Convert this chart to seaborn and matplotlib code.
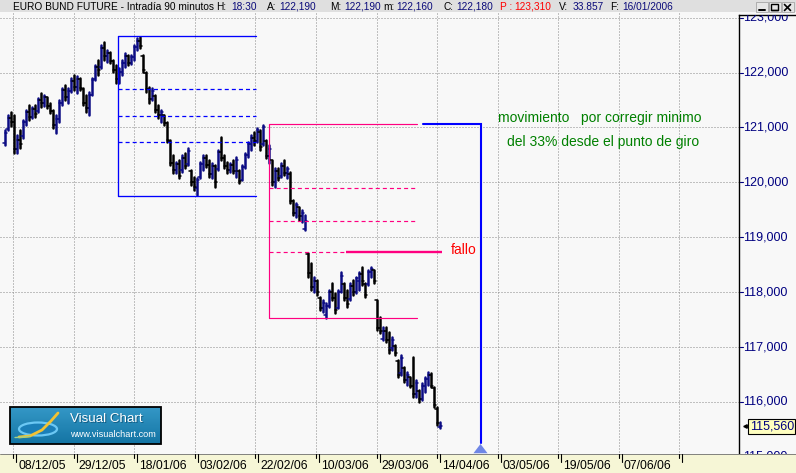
import numpy as np
import pandas as pd
import matplotlib
matplotlib.use("Agg")
import matplotlib.pyplot as plt
from matplotlib.patches import Rectangle, Polygon, Ellipse
import seaborn as sns

# ---------------------------------------------------------------------------
# Euro Bund future, 90-minute bars (compressed), Dec 2005 - Apr 2006
# ---------------------------------------------------------------------------
bar_open = [
    120.72, 120.97, 121.18, 121.10, 120.60, 120.78, 120.85, 121.10, 121.28, 121.20,
    121.33, 121.30, 121.50, 121.45, 121.55, 121.40, 121.30, 121.05, 121.15, 121.45,
    121.68, 121.55, 121.66, 121.85, 121.74, 121.88, 121.70, 121.45, 121.35, 121.60,
    121.88, 122.10, 122.10, 122.45, 122.30, 122.36, 122.22, 122.05, 121.88, 122.02,
    122.18, 122.30, 122.18, 122.28, 122.46, 122.58, 122.30, 122.00, 121.70, 121.52,
    121.58, 121.32, 121.22, 121.22, 121.08, 120.76, 120.36, 120.22, 120.33, 120.22,
    120.45, 120.33, 120.20, 120.00, 119.90, 120.10, 120.33, 120.45, 120.32, 120.15,
    120.30, 120.25, 120.55, 120.45, 120.30, 120.22, 120.32, 120.20, 120.20, 120.05,
    120.28, 120.50, 120.70, 120.80, 120.75, 120.92, 120.70, 120.75, 120.48, 120.40,
    120.00, 120.20, 120.12, 120.30, 120.18, 120.15, 119.66, 119.45, 119.55, 119.38,
    119.16, 118.70, 118.35, 118.10, 118.20, 117.90, 117.72, 117.58, 117.75, 118.00,
    117.90, 117.72, 118.00, 118.15, 117.90, 117.88, 118.12, 118.00, 118.20, 118.33,
    118.15, 118.15, 118.36, 118.40, 117.85, 117.35, 117.15, 117.30, 117.12, 116.98,
    117.02, 116.75, 116.52, 116.62, 116.40, 116.45, 116.30, 116.15, 116.20, 116.05,
    116.30, 116.42, 116.50, 116.25, 115.88, 115.55,
]
bar_high = [
    120.95, 121.23, 121.28, 121.23, 120.86, 120.95, 121.14, 121.32, 121.41, 121.37,
    121.41, 121.54, 121.63, 121.59, 121.56, 121.45, 121.32, 121.23, 121.50, 121.72,
    121.77, 121.72, 121.90, 121.96, 121.94, 121.90, 121.72, 121.59, 121.65, 121.90,
    122.14, 122.23, 122.50, 122.56, 122.41, 122.38, 122.23, 122.14, 122.08, 122.23,
    122.36, 122.32, 122.32, 122.50, 122.63, 122.65, 122.32, 122.01, 121.74, 121.72,
    121.59, 121.41, 121.32, 121.23, 121.10, 120.77, 120.50, 120.37, 120.41, 120.50,
    120.54, 120.63, 120.23, 120.10, 120.08, 120.37, 120.50, 120.50, 120.41, 120.35,
    120.32, 120.59, 120.83, 120.50, 120.37, 120.35, 120.41, 120.46, 120.23, 120.32,
    120.54, 120.74, 120.86, 120.92, 120.99, 120.95, 121.05, 120.77, 120.68, 120.41,
    120.26, 120.26, 120.35, 120.41, 120.28, 120.19, 119.68, 119.63, 119.55, 119.50,
    119.41, 118.71, 118.53, 118.28, 118.22, 117.91, 117.86, 117.80, 118.04, 118.17,
    117.99, 118.04, 118.37, 118.17, 118.04, 118.17, 118.22, 118.28, 118.37, 118.46,
    118.17, 118.40, 118.46, 118.40, 117.86, 117.55, 117.37, 117.37, 117.28, 117.18,
    117.04, 116.77, 116.86, 116.64, 116.55, 116.46, 116.82, 116.40, 116.22, 116.35,
    116.46, 116.55, 116.53, 116.27, 115.90, 115.64,
]
bar_low = [
    120.68, 120.95, 121.03, 120.54, 120.54, 120.63, 120.81, 121.05, 121.14, 121.17,
    121.19, 121.28, 121.37, 121.39, 121.36, 121.26, 120.99, 120.90, 121.10, 121.41,
    121.50, 121.45, 121.65, 121.68, 121.63, 121.68, 121.41, 121.28, 121.23, 121.59,
    121.87, 121.96, 122.08, 122.23, 122.19, 122.18, 122.01, 121.81, 121.81, 121.96,
    122.10, 122.14, 122.16, 122.23, 122.41, 122.45, 122.01, 121.65, 121.45, 121.50,
    121.28, 121.17, 121.10, 121.05, 120.74, 120.32, 120.17, 120.17, 120.08, 120.19,
    120.26, 120.32, 119.95, 119.86, 119.77, 120.08, 120.23, 120.28, 120.10, 120.08,
    119.92, 120.23, 120.41, 120.26, 120.17, 120.19, 120.17, 120.10, 119.99, 120.04,
    120.26, 120.46, 120.59, 120.68, 120.74, 120.59, 120.68, 120.44, 120.35, 119.95,
    119.92, 120.04, 120.10, 120.13, 120.08, 119.63, 119.41, 119.37, 119.32, 119.28,
    119.13, 118.28, 118.04, 118.00, 117.95, 117.68, 117.64, 117.53, 117.73, 117.86,
    117.62, 117.71, 118.00, 117.86, 117.73, 117.86, 117.95, 117.99, 118.04, 118.13,
    117.91, 118.13, 118.28, 118.17, 117.31, 117.26, 117.13, 117.09, 116.89, 116.95,
    116.86, 116.46, 116.49, 116.36, 116.31, 116.27, 116.09, 116.09, 116.00, 116.04,
    116.18, 116.31, 116.27, 115.90, 115.58, 115.53,
]
bar_close = [
    120.90, 121.18, 121.10, 120.60, 120.78, 120.70, 121.10, 121.28, 121.20, 121.33,
    121.25, 121.50, 121.45, 121.55, 121.40, 121.30, 121.05, 121.15, 121.45, 121.68,
    121.55, 121.66, 121.85, 121.74, 121.88, 121.72, 121.45, 121.35, 121.60, 121.86,
    122.10, 122.05, 122.45, 122.30, 122.36, 122.22, 122.05, 121.88, 122.02, 122.18,
    122.30, 122.18, 122.28, 122.46, 122.58, 122.48, 122.05, 121.70, 121.52, 121.66,
    121.32, 121.22, 121.28, 121.08, 120.78, 120.36, 120.22, 120.33, 120.12, 120.45,
    120.30, 120.58, 120.00, 119.92, 120.04, 120.33, 120.45, 120.32, 120.15, 120.30,
    120.00, 120.55, 120.45, 120.30, 120.22, 120.32, 120.20, 120.40, 120.03, 120.28,
    120.50, 120.70, 120.80, 120.75, 120.95, 120.65, 121.00, 120.48, 120.60, 120.00,
    120.20, 120.08, 120.30, 120.18, 120.25, 119.66, 119.45, 119.58, 119.38, 119.45,
    119.30, 118.35, 118.10, 118.20, 118.00, 117.72, 117.80, 117.75, 118.00, 117.90,
    117.68, 118.00, 118.30, 117.90, 117.78, 118.12, 118.00, 118.25, 118.33, 118.20,
    117.95, 118.36, 118.42, 118.20, 117.35, 117.30, 117.30, 117.12, 116.95, 117.12,
    116.90, 116.50, 116.80, 116.40, 116.50, 116.30, 116.15, 116.35, 116.05, 116.30,
    116.42, 116.50, 116.30, 115.95, 115.62, 115.56,
]

price_grid = [115, 116, 117, 118, 119, 120, 121, 122, 123]
date_labels = ["08/12/05", "29/12/05", "18/01/06", "03/02/06", "22/02/06", "10/03/06",
               "29/03/06", "14/04/06", "03/05/06", "19/05/06", "07/06/06", ""]

# retracement boxes drawn from two swings (top, bottom, 33/50/66 levels)
swing1_top, swing1_bottom = 122.67, 119.75
swing1_levels = [121.70, 121.21, 120.74]
swing2_top, swing2_bottom = 121.06, 117.53
swing2_levels = [119.89, 119.30, 118.73]
target_arrow_end = 115.25

header_title = "EURO BUND FUTURE - Intradía 90 minutos"
header_fields = [("H:", "18:30"), ("A:", "122,190"), ("M:", "122,190"),
                 ("m:", "122,160"), ("C:", "122,180"), ("P :", "123,310"),
                 ("V:", "33.857"), ("F:", "16/01/2006")]

# ---------------------------------------------------------------------------
sns.set_theme(style="white")
plt.rcParams["font.family"] = ["Liberation Sans", "DejaVu Sans"]
plt.rcParams["lines.scale_dashes"] = False

W, H = 796, 473
fig = plt.figure(figsize=(W / 100, H / 100), dpi=100)
fig.patch.set_facecolor("#f8f8f8")

PLOT_TOP, PLOT_BOTTOM, PLOT_RIGHT = 12, 455, 739
PX0, PX_STEP = 5.0, 3.0          # pixel of first bar, pixels per bar


def idx_of(px):
    return (px - PX0) / PX_STEP


def fmt_price(v):
    return f"{v:.3f}".replace(".", ",")


PRICE_TOP, PRICE_BOTTOM = 123.104, 115.034

ax = fig.add_axes([0, 1 - PLOT_BOTTOM / H, PLOT_RIGHT / W, (PLOT_BOTTOM - PLOT_TOP) / H])
ax.set_facecolor("#f8f8f8")
xmin, xmax = idx_of(0), idx_of(PLOT_RIGHT)

# dotted grid
dot = (0, (0.72, 1.44))
ax.hlines(price_grid, xmin, xmax, colors="#8a8a8a", linestyles=[dot], lw=0.72, zorder=1)
grid_px = [13.3 + 60.545 * k for k in range(len(date_labels))]
ax.vlines([idx_of(g) for g in grid_px], PRICE_BOTTOM, PRICE_TOP, colors="#8a8a8a",
          linestyles=[dot], lw=0.72, zorder=1)

# OHLC bars
n = len(bar_close)
idx = np.arange(n)
o = np.array(bar_open)
c = np.array(bar_close)
direction = np.where(c >= o, "up", "down")
palette = {"up": "#0c0c84", "down": "#000000"}

hl = pd.DataFrame({
    "x": np.repeat(idx, 2).astype(float),
    "price": np.column_stack([bar_low, bar_high]).ravel(),
    "bar": np.repeat(idx, 2),
    "dir": np.repeat(direction, 2),
})
half = 0.55
oc = pd.DataFrame({
    "x": np.concatenate([np.column_stack([idx - half, idx]).ravel(),
                         np.column_stack([idx, idx + half]).ravel()]),
    "price": np.concatenate([np.repeat(o, 2), np.repeat(c, 2)]),
    "bar": np.concatenate([np.repeat(idx, 2), np.repeat(idx + n, 2)]),
    "dir": np.concatenate([np.repeat(direction, 2)] * 2),
})
sns.lineplot(data=hl, x="x", y="price", hue="dir", units="bar", estimator=None,
             sort=False, palette=palette, lw=1.8, legend=False, ax=ax, zorder=3)
sns.lineplot(data=oc, x="x", y="price", hue="dir", units="bar", estimator=None,
             sort=False, palette=palette, lw=1.1, legend=False, ax=ax, zorder=3)

# first swing box (blue)
blue, pink = "#0000ff", "#ff0080"
dash = (0, (2.9, 2.2))
b0, b1 = idx_of(118.3), idx_of(256)
ax.plot([b1, b0, b0, b1], [swing1_top, swing1_top, swing1_bottom, swing1_bottom],
        color=blue, lw=0.95, zorder=4)
ax.hlines(swing1_levels, b0, b1, colors=blue, linestyles=[dash], lw=0.9, zorder=4)

# second swing box (pink)
p0, p1 = idx_of(269.3), idx_of(417.3)
ax.plot([p1, p0, p0, p1], [swing2_top, swing2_top, swing2_bottom, swing2_bottom],
        color=pink, lw=0.85, zorder=4)
ax.hlines(swing2_levels[:2], p0, p1, colors=pink, linestyles=[dash], lw=0.85, zorder=4)
f0, f1 = idx_of(346), idx_of(441.7)
ax.hlines(swing2_levels[2], p0, f0, colors=pink, linestyles=[dash], lw=0.85, zorder=4)
ax.hlines(swing2_levels[2], f0, f1, colors=pink, lw=1.7, zorder=4)
ax.text(idx_of(450.5), swing2_levels[2] + 0.04, "fallo", color="#ff0000", fontsize=10,
        va="center", ha="left", zorder=5)

# projection arrow
a_x = idx_of(480.5)
ax.plot([idx_of(423.3), a_x, a_x], [swing2_top, swing2_top, target_arrow_end],
        color=blue, lw=1.5, zorder=4, solid_joinstyle="miter")
ax.add_patch(Polygon([(a_x - 2.35, 115.066), (a_x + 2.35, 115.066), (a_x, 115.235)],
                     closed=True, facecolor="#6f86e6", edgecolor="none", zorder=5))

ax.text(idx_of(498.3), 121.17, "movimiento   por corregir minimo", color="#008000",
        fontsize=10, va="center", ha="left", zorder=5)
ax.text(idx_of(506.7), 120.74, "del 33% desde el punto de giro", color="#008000",
        fontsize=10, va="center", ha="left", zorder=5)

ax.set_xlim(xmin, xmax)
ax.set_ylim(PRICE_BOTTOM, PRICE_TOP)
ax.set_xticks([])
ax.set_yticks([])
ax.set_xlabel("")
ax.set_ylabel("")
for s in ax.spines.values():
    s.set_visible(False)

# right price scale
axr = fig.add_axes([PLOT_RIGHT / W, 1 - PLOT_BOTTOM / H, (W - PLOT_RIGHT) / W,
                    (PLOT_BOTTOM - 15) / H])
axr.set_facecolor("#f8f8f8")
axr.set_xlim(0, W - PLOT_RIGHT)
axr.set_ylim(PRICE_BOTTOM, 123.049)
axr.set_xticks([])
axr.set_yticks([])
for side in ("right", "bottom"):
    axr.spines[side].set_visible(False)
for side in ("left", "top"):
    axr.spines[side].set_color("black")
    axr.spines[side].set_linewidth(1.0)
for v in price_grid:
    axr.plot([0.8, 3.6], [v, v], color="#000080", lw=0.8, clip_on=True)
    axr.text(4.5, v, fmt_price(v), color="#000080", fontsize=9, va="center",
             ha="left", clip_on=True)
last_close = bar_close[-1]
axr.text(10.6, last_close, fmt_price(last_close), color="#000080", fontsize=9,
         va="center", ha="left",
         bbox=dict(boxstyle="square,pad=0.12", fc="#ffffc0", ec="black", lw=0.8))
axr.plot([5.5], [last_close], marker="<", ms=2.5, color="black")

# overlay in pixel coordinates: header, date strip, logo
ov = fig.add_axes([0, 0, 1, 1])
ov.set_xlim(0, W)
ov.set_ylim(H, 0)
ov.axis("off")
ov.patch.set_alpha(0)

HEADER_FS = 7.3
ov.add_patch(Rectangle((0, 0), W, PLOT_TOP, facecolor="#dfdfdf", edgecolor="none"))
ov.text(13.3, 6.5, header_title, fontsize=HEADER_FS, color="black", va="center", ha="left")
field_x = [(216, 231), (266.7, 279.3), (330, 344), (383.3, 396), (443.3, 456),
           (500, 514), (559.3, 572.7), (610, 622.7)]
for (lab, val), (lx, vx) in zip(header_fields, field_x):
    red = lab.startswith("P")
    ov.text(lx, 6.5, lab, fontsize=HEADER_FS, color="#ff0000" if red else "black",
            va="center", ha="left")
    ov.text(vx, 6.5, val, fontsize=HEADER_FS, color="#ff0000" if red else "#0a0a7a",
            va="center", ha="left")

# window buttons
for bx in (755.5, 768.5, 781.5):
    ov.add_patch(Rectangle((bx, 2.5), 12, 10, facecolor="#e6e6e6", edgecolor="#9a9a9a", lw=0.5))
ov.plot([758.5, 764.5], [10.5, 10.5], color="black", lw=1.4)
ov.add_patch(Rectangle((771, 4.5), 7, 6, fill=False, edgecolor="black", lw=1.0))
ov.plot([771, 777.5], [10.5, 10.5], color="black", lw=1.0)
ov.plot([784.5, 790.5], [4.5, 10.5], color="black", lw=1.2)
ov.plot([784.5, 790.5], [10.5, 4.5], color="black", lw=1.2)

# date strip
ov.add_patch(Rectangle((0, 454), W, H - 454, facecolor="#f6f6d6", edgecolor="none"))
ov.plot([0, W], [454.3, 454.3], color="#6e6e6e", lw=0.6)
for g, lab in zip(grid_px, date_labels):
    ov.plot([g, g], [454, 458], color="black", lw=0.8)
    ov.plot([g + 3, g + 3], [454, 462], color="black", lw=0.8)
    if lab:
        ov.text(g + 5, 466, lab, fontsize=8.7, color="black", va="center", ha="left")

# logo
grad = np.linspace(0, 1, 40)[:, None, None]
top_c = np.array([52, 152, 198]) / 255
bot_c = np.array([20, 116, 164]) / 255
img = top_c * (1 - grad) + bot_c * grad
img = np.repeat(img, 2, axis=1)
ov.imshow(img, extent=(10, 161, 444, 407), aspect="auto", origin="upper",
          interpolation="bilinear", zorder=2)
ov.add_patch(Ellipse((38, 429), 38, 13, facecolor="#1b7fb8", edgecolor="#6cc8f4",
                     lw=1.6, zorder=3))
ov.plot([19, 30, 42, 51, 58], [437, 436, 430, 421, 413], color="#f2c232", lw=2.0,
        zorder=4, solid_capstyle="round")
ov.plot([15, 22, 30], [437.5, 437.3, 436.3], color="#9fd08a", lw=1.0, zorder=4)
ov.text(71, 420, "Visual Chart", fontsize=9.6, color="#0b4a6e", va="center",
        ha="left", alpha=0.7, zorder=4)
ov.text(70, 419, "Visual Chart", fontsize=9.6, color="white", va="center",
        ha="left", zorder=5)
ov.text(70, 434, "www.visualchart.com", fontsize=6.6, color="white", va="center",
        ha="left", zorder=5)
ov.add_patch(Rectangle((10, 407), 151, 37, fill=False, edgecolor="black", lw=1.3, zorder=6))
ov.set_xlim(0, W)
ov.set_ylim(H, 0)

fig.savefig("out.png", dpi=100, facecolor=fig.get_facecolor())
